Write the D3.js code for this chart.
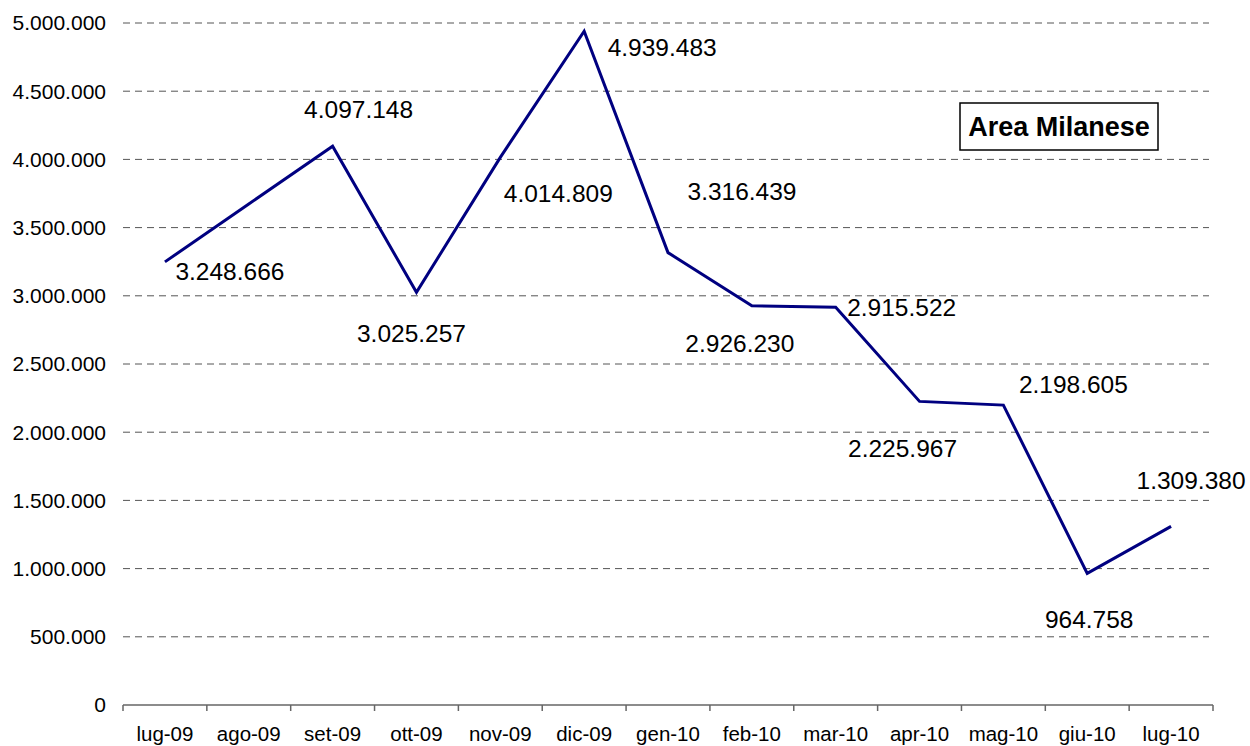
<!DOCTYPE html>
<html>
<head>
<meta charset="utf-8">
<script src="https://cdn.jsdelivr.net/npm/d3@7"></script>
<style>
  body { margin: 0; background: #fff; }
  svg { display: block; font-family: "Liberation Sans", Arial, sans-serif; }
</style>
</head>
<body>
<svg id="chart" width="1250" height="746"></svg>
<script>
// months on the x axis
const months = ["lug-09", "ago-09", "set-09", "ott-09", "nov-09", "dic-09", "gen-10",
                "feb-10", "mar-10", "apr-10", "mag-10", "giu-10", "lug-10"];
// monthly values (ago-09, it has no label in the original)
const values = [3248666, 3673000, 4097148, 3025257, 4014809, 4939483, 3316439,
                2926230, 2915522, 2225967, 2198605, 964758, 1309380];
const showLabel = [true, false, true, true, true, true, true, true, true, true, true, true, true];
const yTicks = [0, 500000, 1000000, 1500000, 2000000, 2500000, 3000000, 3500000, 4000000, 4500000, 5000000];
const title = "Area Milanese";

// where each data label sits relative to its point (moved by hand in the original)
const labelOffsets = [[65, 10], [0, 0], [26, -37], [-5, 41], [58, 36], [78, 16], [74, -61],
                      [-12, 38], [66, 0], [-17, 47], [70, -21], [2, 46], [20, -46]];

const svg = d3.select("#chart");
const plotLeft = 123, plotRight = 1213, plotTop = 23, plotBottom = 705;

const x = d3.scaleBand().domain(months).range([plotLeft, plotRight]);
const y = d3.scaleLinear().domain([0, 5000000]).range([plotBottom, plotTop]);
const cx = m => x(m) + x.bandwidth() / 2;

// it-IT style thousands separator
const fmt = v => d3.format(",")(v).replace(/,/g, ".");

// dashed gridlines
svg.append("g")
  .selectAll("line")
  .data(yTicks.filter(d => d > 0))
  .enter()
  .append("line")
  .attr("x1", plotLeft)
  .attr("x2", plotRight - 4)
  .attr("y1", d => y(d))
  .attr("y2", d => y(d))
  .attr("stroke", "#555")
  .attr("stroke-width", 1)
  .attr("stroke-dasharray", "7,5");

// y tick labels (no axis line)
svg.append("g")
  .selectAll("text")
  .data(yTicks)
  .enter()
  .append("text")
  .attr("x", 106)
  .attr("y", d => y(d))
  .attr("dy", "0.35em")
  .attr("text-anchor", "end")
  .attr("font-size", 21)
  .attr("fill", "#000")
  .text(fmt);

// x axis with ticks between categories
const xAxis = svg.append("g");
xAxis.append("line")
  .attr("x1", plotLeft).attr("x2", plotRight)
  .attr("y1", plotBottom).attr("y2", plotBottom)
  .attr("stroke", "#666").attr("stroke-width", 1.5);
xAxis.selectAll("line.tick")
  .data(d3.range(months.length + 1))
  .enter()
  .append("line")
  .attr("class", "tick")
  .attr("x1", i => plotLeft + i * x.step())
  .attr("x2", i => plotLeft + i * x.step())
  .attr("y1", plotBottom)
  .attr("y2", plotBottom + 6)
  .attr("stroke", "#666").attr("stroke-width", 1.5);
xAxis.selectAll("text")
  .data(months)
  .enter()
  .append("text")
  .attr("x", d => cx(d))
  .attr("y", 741)
  .attr("text-anchor", "middle")
  .attr("font-size", 20.5)
  .attr("fill", "#000")
  .text(d => d);

// the series line
const points = months.map((m, i) => ({ month: m, value: values[i], show: showLabel[i], off: labelOffsets[i] }));

const line = d3.line()
  .x(d => cx(d.month))
  .y(d => y(d.value));

svg.append("path")
  .datum(points)
  .attr("d", line)
  .attr("fill", "none")
  .attr("stroke", "#000080")
  .attr("stroke-width", 3)
  .attr("stroke-linejoin", "miter");

// data labels
svg.append("g")
  .selectAll("text")
  .data(points.filter(d => d.show))
  .enter()
  .append("text")
  .attr("x", d => cx(d.month) + d.off[0])
  .attr("y", d => y(d.value) + d.off[1])
  .attr("dy", "0.35em")
  .attr("text-anchor", "middle")
  .attr("font-size", 24.5)
  .attr("fill", "#000")
  .text(d => fmt(d.value));

// title box
svg.append("rect")
  .attr("x", 960).attr("y", 103)
  .attr("width", 198).attr("height", 47)
  .attr("fill", "#fff")
  .attr("stroke", "#000")
  .attr("stroke-width", 1.5);
svg.append("text")
  .attr("x", 1059)
  .attr("y", 127)
  .attr("dy", "0.35em")
  .attr("text-anchor", "middle")
  .attr("font-size", 27)
  .attr("font-weight", "bold")
  .attr("fill", "#000")
  .text(title);
</script>
</body>
</html>
